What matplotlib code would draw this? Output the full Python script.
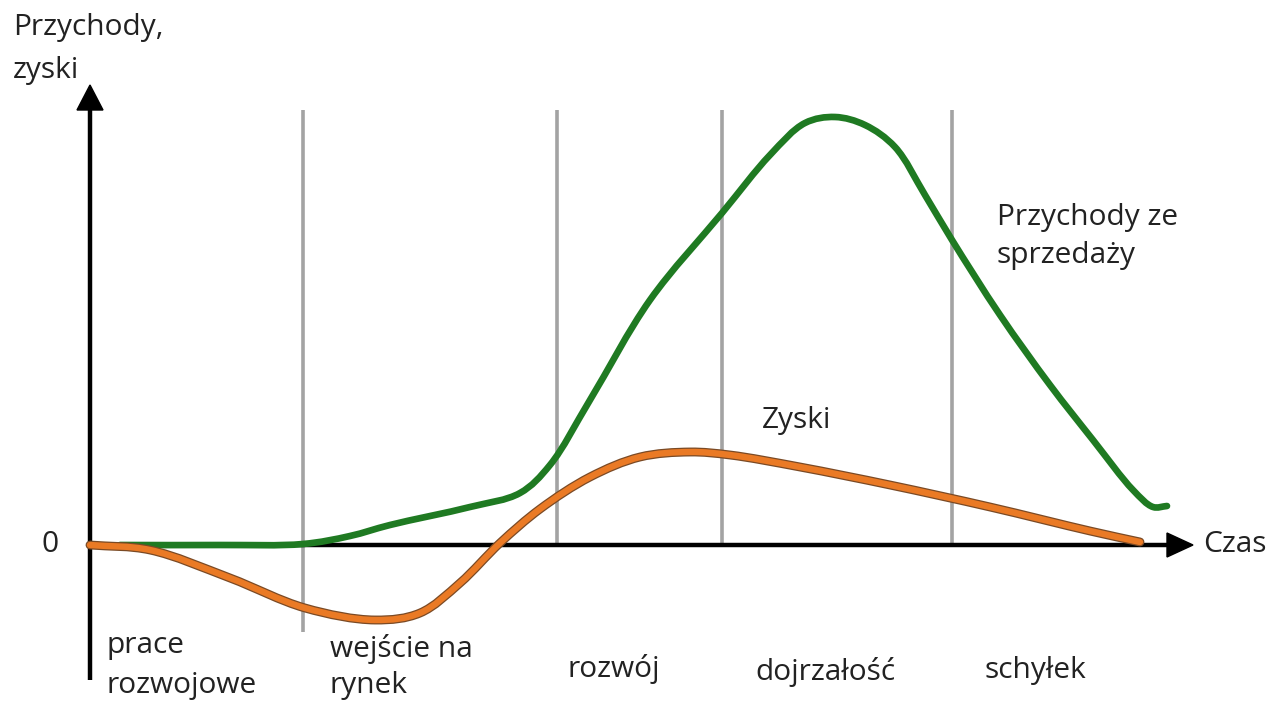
import matplotlib
matplotlib.use("Agg")
import matplotlib.pyplot as plt
import matplotlib.patheffects as pe
from matplotlib.path import Path
from matplotlib.patches import PathPatch
import numpy as np

# ---- data (time units, value units; 0 = origin of the axes) ----
revenue_t = [30, 130, 213, 260, 300, 380, 430, 460, 500, 560, 632, 680, 715, 745, 775,
             805, 835, 862, 910, 960, 1003, 1043, 1063, 1077]
revenue_v = [0, 0, 1, 9, 20, 38, 52, 80, 145, 245, 332, 390, 422, 428, 420,
             398, 350, 305, 230, 160, 105, 55, 38, 39]

profit_t = [0, 60, 140, 215, 285, 330, 370, 410, 450, 500, 550, 600, 640, 710, 800, 900, 1000, 1050]
profit_v = [0, -5, -33, -63, -75, -68, -38, 2, 36, 68, 88, 93, 90, 78, 60, 38, 14, 3]

phase_bounds = [213, 467, 632, 862]
phase_lines = [["prace", "rozwojowe"], ["wejście na", "rynek"], ["rozwój"], ["dojrzałość"], ["schyłek"]]
phase_label_t = [17, 240, 477, 665, 895]
phase_label_v = [[-108, -148], [-112, -148], [-132], [-135], [-133]]

y_top = 435
x_end = 1103

# ---- figure ----
fig = plt.figure(figsize=(12.76, 7.05), dpi=100)
ax = fig.add_axes([0, 0, 1, 1])
ax.set_xlim(-90, 1186)
ax.set_ylim(-160, 545)
ax.axis("off")

font = "Open Sans"
fs = 21.5
txtc = "#222222"


def smooth_path(xs, ys, alpha=0.5):
    """Centripetal Catmull-Rom curve through the given points, as cubic Beziers."""
    pts = np.column_stack([xs, ys]).astype(float)
    n = len(pts)
    verts = [pts[0]]
    codes = [Path.MOVETO]
    for i in range(n - 1):
        p0 = pts[i - 1] if i > 0 else 2 * pts[i] - pts[i + 1]
        p1 = pts[i]
        p2 = pts[i + 1]
        p3 = pts[i + 2] if i + 2 < n else 2 * pts[i + 1] - pts[i]
        d1 = max(np.linalg.norm(p1 - p0) ** alpha, 1e-6)
        d2 = max(np.linalg.norm(p2 - p1) ** alpha, 1e-6)
        d3 = max(np.linalg.norm(p3 - p2) ** alpha, 1e-6)
        m1 = (p1 - p0) / d1 - (p2 - p0) / (d1 + d2) + (p2 - p1) / d2
        m2 = (p2 - p1) / d2 - (p3 - p1) / (d2 + d3) + (p3 - p2) / d3
        m1 *= d2
        m2 *= d2
        verts += [p1 + m1 / 3.0, p2 - m2 / 3.0, p2]
        codes += [Path.CURVE4] * 3
    return Path(verts, codes)


# phase boundaries
ax.vlines(phase_bounds[0], -87, y_top, color="#a3a3a3", lw=2.6, zorder=1)
ax.vlines(phase_bounds[1:], 0, y_top, color="#a3a3a3", lw=2.6, zorder=1)

# axes with arrows
ax.plot([0, 0], [-135, y_top + 5], color="black", lw=3.2, zorder=2, solid_capstyle="butt")
ax.plot([0, x_end - 22], [0, 0], color="black", lw=3.2, zorder=2, solid_capstyle="butt")
ax.fill([-13, 13, 0], [y_top, y_top, y_top + 25], color="black", zorder=3)
ax.fill([x_end - 26, x_end - 26, x_end], [-12, 12, 0], color="black", zorder=3)

# curves
ax.add_patch(PathPatch(smooth_path(revenue_t, revenue_v), fill=False, edgecolor="#1f7a22",
                       lw=4.8, zorder=4, capstyle="round", joinstyle="round"))
ax.add_patch(PathPatch(smooth_path(profit_t, profit_v), fill=False, edgecolor="#ea7a25",
                       lw=4.6, zorder=5, capstyle="round", joinstyle="round",
                       path_effects=[pe.Stroke(linewidth=6.4, foreground="#7a4a25"), pe.Normal()]))

# texts
kw = dict(fontsize=fs, family=font, color=txtc, ha="left")
ax.text(-77, 510, "Przychody,", va="baseline", **kw)
ax.text(-77, 467, "zyski", va="baseline", **kw)
ax.text(-48, 0, "0", va="center", **kw)
ax.text(x_end + 10, 0, "Czas", va="center", **kw)
ax.text(907, 320, "Przychody ze", va="baseline", **kw)
ax.text(907, 282, "sprzedaży", va="baseline", **kw)
ax.text(672, 117, "Zyski", va="baseline", **kw)
for lines, t, vs in zip(phase_lines, phase_label_t, phase_label_v):
    for line, v in zip(lines, vs):
        ax.text(t, v, line, va="baseline", **kw)

fig.savefig("out.png", dpi=100)
